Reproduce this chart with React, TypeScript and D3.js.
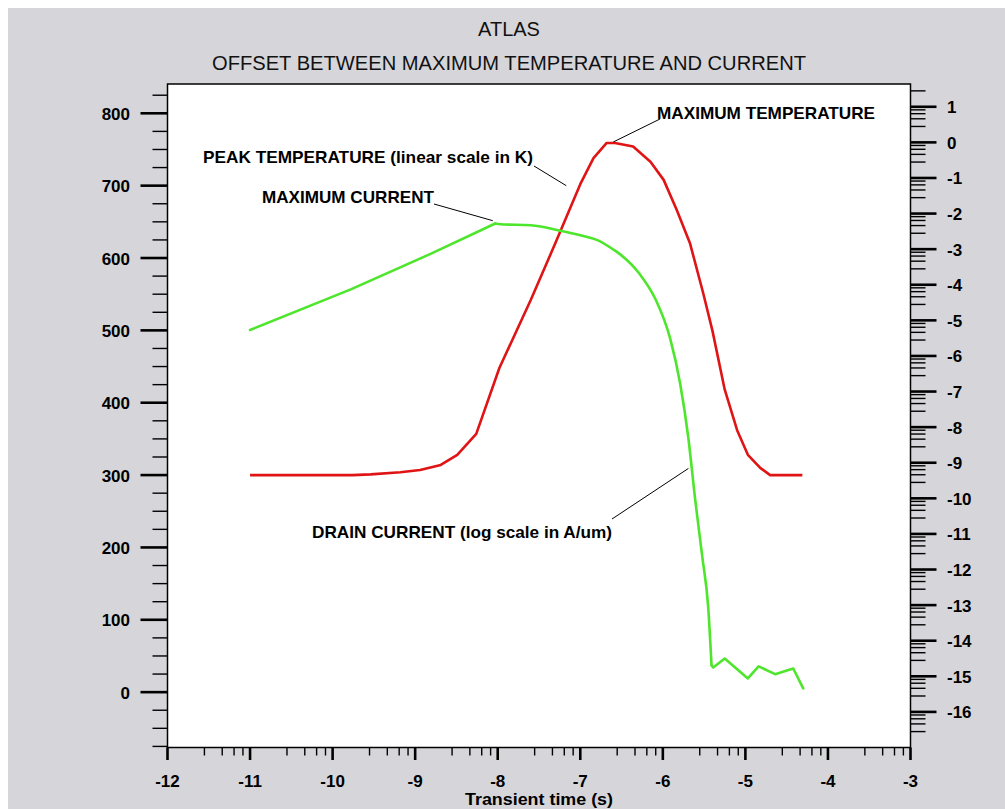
import * as d3 from 'd3'

// peak temperature (K) vs log10 of transient time
const tempTime = [-11.0, -9.76, -9.54, -9.18, -8.94, -8.69, -8.49, -8.26, -7.98, -7.6, -7.3, -7.0, -6.84, -6.68, -6.58, -6.36, -6.15, -5.99, -5.83, -5.67, -5.51, -5.4, -5.25, -5.1, -4.97, -4.82, -4.7, -4.31]
const tempK = [300, 300, 301, 304, 307, 314, 328, 357, 448, 542, 621, 702, 738, 759, 759, 754, 733, 708, 666, 620, 551, 500, 418, 362, 328, 310, 300, 300]

// drain current, log10(A/um)
const curTime = [-11.0, -9.78, -8.82, -8.03, -7.97, -7.6, -7.24, -7.0, -6.76, -6.6, -6.52, -6.28, -6.09, -5.91, -5.79, -5.69, -5.61, -5.52, -5.45, -5.41, -5.39, -5.25, -4.97, -4.84, -4.64, -4.42, -4.3]
const curLog = [-5.27, -4.13, -3.14, -2.28, -2.3, -2.33, -2.48, -2.61, -2.78, -3.01, -3.14, -3.7, -4.4, -5.52, -6.78, -8.32, -10.0, -11.68, -13.07, -14.69, -14.75, -14.5, -15.06, -14.72, -14.94, -14.78, -15.34]
// the roll-off between these two indices is drawn smooth, the rest straight
const smoothFrom = 3
const smoothTo = 19

const xMajor = [-12, -11, -10, -9, -8, -7, -6, -5, -4, -3]
const leftMajor = [0, 100, 200, 300, 400, 500, 600, 700, 800]
const rightMajor = [1, 0, -1, -2, -3, -4, -5, -6, -7, -8, -9, -10, -11, -12, -13, -14, -15, -16]
// minor tick fractions inside a decade
const decadeSteps = [2.8, 4.6, 6.4, 8.2]

const W = 1005
const H = 809
const BG = '#d6d6da'
const RED = '#e01414'
const GREEN = '#4ee62c'
const FONT = '"Liberation Sans", Arial, Helvetica, sans-serif'

export default function App() {
  const left = 167.5
  const right = 910.5
  const top = 84
  const bottom = 747.5

  const x = d3.scaleLinear().domain([-12, -3]).range([left, right])
  const yL = d3.scaleLinear().domain([-76.5, 840.5]).range([bottom, top])
  const yR = d3.scaleLinear().domain([-17, 1.64]).range([bottom, top])

  const tempLine = d3.line<number>().x((d, i) => x(tempTime[i])).y(d => yL(d))
  const curPts = curTime.map((t, i) => [t, curLog[i]] as [number, number])
  const curStraight = d3.line<[number, number]>().x(d => x(d[0])).y(d => yR(d[1]))
  const curSmooth = d3.line<[number, number]>().x(d => x(d[0])).y(d => yR(d[1])).curve(d3.curveMonotoneX)
  const greenParts = [
    curStraight(curPts.slice(0, smoothFrom + 1)),
    curSmooth(curPts.slice(smoothFrom, smoothTo + 1)),
    curStraight(curPts.slice(smoothTo)),
  ]

  const leftMinor = d3.range(-75, 841, 25).filter(v => v % 100 !== 0)
  const xMinor: number[] = []
  for (let n = -13; n < -3; n++) decadeSteps.forEach(s => xMinor.push(n + Math.log10(s)))
  const rMinor: number[] = []
  for (let n = -18; n < 2; n++) decadeSteps.forEach(s => rMinor.push(n + Math.log10(s)))

  const lbl = (v: number) => (v < 0 ? '-' + Math.abs(v) : String(v))

  // annotation text + leader line towards the curve
  const notes = [
    { tx: 657, ty: 118.5, text: 'MAXIMUM TEMPERATURE', len: 218, from: [660, 119], to: [x(-6.6), yL(759) - 1] },
    { tx: 203, ty: 163, text: 'PEAK TEMPERATURE (linear scale in K)', len: 330, from: [534, 166], to: [x(-7.17), yL(700)] },
    { tx: 262, ty: 203, text: 'MAXIMUM CURRENT', len: 172, from: [434, 204], to: [x(-8.06), yR(-2.2)] },
    { tx: 312, ty: 538, text: 'DRAIN CURRENT (log scale in A/um)', len: 300, from: [612, 519], to: [x(-5.69), yR(-9.16)] },
  ]

  return (
    <svg width={W} height={H} style={{ position: 'fixed', left: 0, top: 0, display: 'block' }} fontFamily={FONT}>
      <rect x={8} y={8} width={W} height={H} fill={BG} />
      <rect x={left} y={top} width={right - left} height={bottom - top} fill="#fff" />

      <text x={509} y={36} textAnchor="middle" fontSize={20} fill="#111">ATLAS</text>
      <text x={509} y={70} textAnchor="middle" fontSize={20} fill="#111" textLength={594} lengthAdjust="spacingAndGlyphs">
        OFFSET BETWEEN MAXIMUM TEMPERATURE AND CURRENT
      </text>

      {/* plot frame */}
      <rect x={left} y={top} width={right - left} height={bottom - top} fill="none" stroke="#000" strokeWidth={1.5} />

      {/* left axis */}
      {leftMinor.map(v => (
        <line key={'lm' + v} x1={left - 15} x2={left} y1={yL(v)} y2={yL(v)} stroke="#000" strokeWidth={1.4} />
      ))}
      {leftMajor.map(v => (
        <g key={'lM' + v}>
          <line x1={left - 27} x2={left} y1={yL(v)} y2={yL(v)} stroke="#000" strokeWidth={2.6} />
          <text x={130} y={yL(v) + 6.5} textAnchor="end" fontSize={17} fontWeight="bold" fill="#000">{v}</text>
        </g>
      ))}

      {/* right axis (log) */}
      {rMinor.filter(v => v > -17 && v < 1.64).map((v, i) => (
        <line key={'rm' + i} x1={right} x2={right + 15} y1={yR(v)} y2={yR(v)} stroke="#000" strokeWidth={1.4} />
      ))}
      {rightMajor.map(v => (
        <g key={'rM' + v}>
          <line x1={right} x2={right + 26} y1={yR(v)} y2={yR(v)} stroke="#000" strokeWidth={2.6} />
          <text x={947} y={yR(v) + 6.5} fontSize={17} fontWeight="bold" fill="#000">{lbl(v)}</text>
        </g>
      ))}

      {/* bottom axis (log time) */}
      {xMinor.filter(v => v > -12 && v < -3).map((v, i) => (
        <line key={'xm' + i} x1={x(v)} x2={x(v)} y1={bottom} y2={bottom + 8} stroke="#000" strokeWidth={1.4} />
      ))}
      {xMajor.map(v => (
        <g key={'xM' + v}>
          <line x1={x(v)} x2={x(v)} y1={bottom} y2={bottom + 12.5} stroke="#000" strokeWidth={2.6} />
          <text x={x(v)} y={787} textAnchor="middle" fontSize={17} fontWeight="bold" fill="#000">{lbl(v)}</text>
        </g>
      ))}
      <text x={(left + right) / 2} y={805} textAnchor="middle" fontSize={17} fontWeight="bold" fill="#000" textLength={148} lengthAdjust="spacingAndGlyphs">
        Transient time (s)
      </text>

      {/* curves */}
      <path d={tempLine(tempK) || ''} fill="none" stroke={RED} strokeWidth={2.6} strokeLinejoin="round" />
      {greenParts.map((d, i) => (
        <path key={'g' + i} d={d || ''} fill="none" stroke={GREEN} strokeWidth={2.6} strokeLinejoin="round" strokeLinecap="round" />
      ))}

      {/* annotations */}
      {notes.map(n => (
        <g key={n.text}>
          <line x1={n.from[0]} y1={n.from[1]} x2={n.to[0]} y2={n.to[1]} stroke="#000" strokeWidth={1} />
          <text x={n.tx} y={n.ty} fontSize={17} fontWeight="bold" fill="#000" textLength={n.len} lengthAdjust="spacingAndGlyphs">{n.text}</text>
        </g>
      ))}
    </svg>
  )
}
